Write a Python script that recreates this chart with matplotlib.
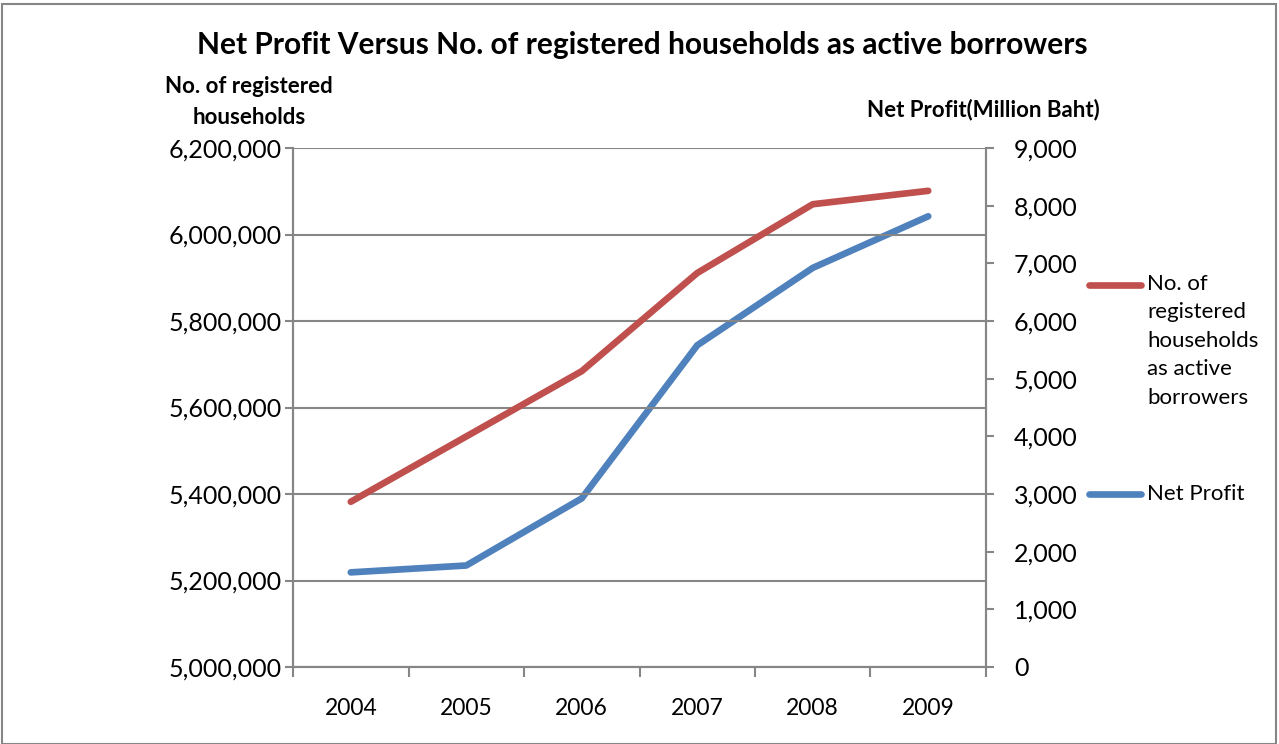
import matplotlib
matplotlib.use("Agg")
import matplotlib.pyplot as plt
from matplotlib.lines import Line2D
from matplotlib.patches import Rectangle
from matplotlib.ticker import FuncFormatter, MultipleLocator

plt.rcParams['font.family'] = ['Lato', 'DejaVu Sans']

years = ["2004", "2005", "2006", "2007", "2008", "2009"]
households = [5382000, 5533000, 5684000, 5911000, 6070000, 6101000]
net_profit = [1641, 1760, 2924, 5579, 6921, 7816]

red = "#C0504D"
blue = "#4F81BD"
grid_c = "#868686"

W, H = 1279, 744
fig = plt.figure(figsize=(W / 100, H / 100), dpi=100)
ax = fig.add_axes([293 / W, (H - 667) / H, 693 / W, 519 / H])
ax2 = ax.twinx()

x = list(range(len(years)))
ax.plot(x, households, color=red, lw=4.8, solid_capstyle='round', solid_joinstyle='round', zorder=3)
ax2.plot(x, net_profit, color=blue, lw=4.8, solid_capstyle='round', solid_joinstyle='round', zorder=3)
ax.set_zorder(ax2.get_zorder() + 1)
ax.patch.set_visible(False)

ax.set_xlim(-0.5, len(years) - 0.5)
ax.set_ylim(5000000, 6200000)
ax2.set_ylim(0, 9000)
ax.yaxis.set_major_locator(MultipleLocator(200000))
ax2.yaxis.set_major_locator(MultipleLocator(1000))
ax.yaxis.set_major_formatter(FuncFormatter(lambda v, p: f"{int(round(v)):,}"))
ax2.yaxis.set_major_formatter(FuncFormatter(lambda v, p: f"{int(round(v)):,}"))

ax.set_xticks([i - 0.5 for i in range(len(years) + 1)])
ax.set_xticklabels([])
ax.set_xticks(x, minor=True)
ax.set_xticklabels(years, minor=True)
ax.tick_params(axis='x', which='major', length=7, width=1.5, color=grid_c, direction='out')
ax.tick_params(axis='x', which='minor', length=0, pad=22, labelsize=16.5)
ax.tick_params(axis='y', length=6, width=1.5, color=grid_c, labelsize=18, pad=2)
ax2.tick_params(axis='y', length=6, width=1.5, color=grid_c, labelsize=18, pad=14)

ax.grid(axis='y', color=grid_c, lw=1.5)
for a in (ax, ax2):
    for s in a.spines.values():
        s.set_color(grid_c)
        s.set_linewidth(1.5)
    a.spines['top'].set_visible(False)

fig.text(642 / W, 1 - 45 / H, "Net Profit Versus No. of registered households as active borrowers",
         ha='center', va='center', fontsize=21.5, fontweight='bold')
fig.text(249 / W, 1 - 102 / H, "No. of registered\nhouseholds", ha='center', va='center',
         fontsize=16, fontweight='bold', linespacing=1.6)
fig.text(983 / W, 1 - 110 / H, "Net Profit(Million Baht)", ha='center', va='center',
         fontsize=16, fontweight='bold')

# legend
fig.add_artist(Line2D([1089 / W, 1141 / W], [1 - 285 / H, 1 - 285 / H], color=red, lw=4.8,
                      solid_capstyle='round'))
fig.text(1147 / W, 1 - 274 / H, "No. of\nregistered\nhouseholds\nas active\nborrowers",
         ha='left', va='top', fontsize=16, linespacing=1.53)
fig.add_artist(Line2D([1089 / W, 1141 / W], [1 - 494 / H, 1 - 494 / H], color=blue, lw=4.8,
                      solid_capstyle='round'))
fig.text(1147 / W, 1 - 494 / H, "Net Profit", ha='left', va='center', fontsize=16)

fig.add_artist(Rectangle((2 / W, 0), 1274 / W, 1 - 4 / H, fill=False, edgecolor=grid_c, lw=1.5,
                         transform=fig.transFigure))

fig.savefig("out.png", dpi=100, facecolor='white')
